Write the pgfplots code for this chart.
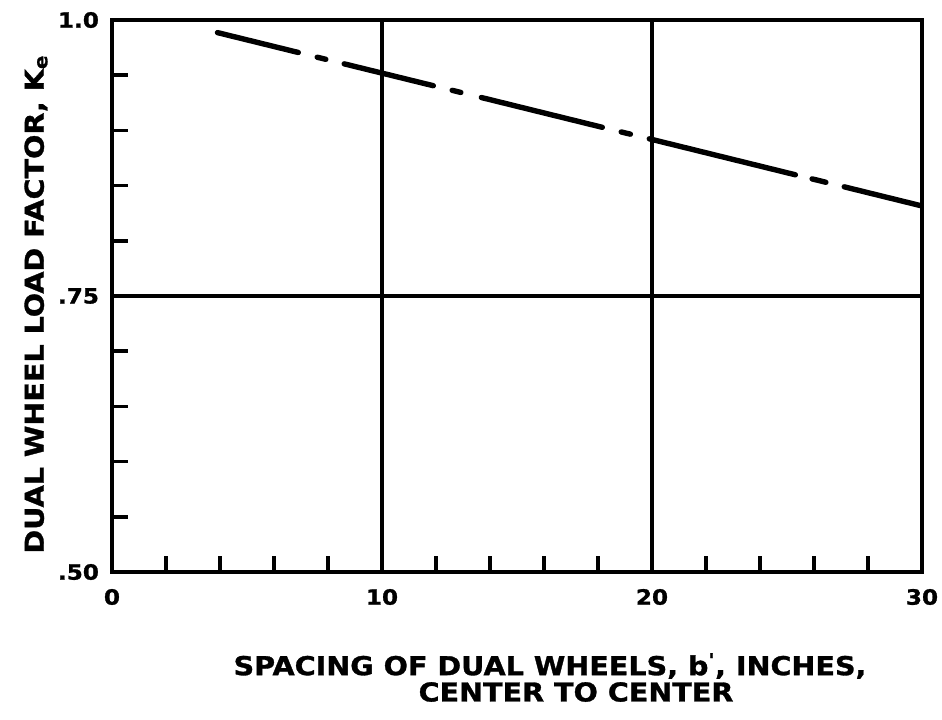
\documentclass[border=0pt]{standalone}
\usepackage{fontspec}
\setmainfont{DejaVu Sans}[BoldFeatures={FakeStretch=1.1,FakeBold=1.2}]
\usepackage{pgfplots}
\pgfplotsset{compat=1.18}
\usetikzlibrary{calc}
\begin{document}
\begin{tikzpicture}
\begin{axis}[
  name=ax,
  scale only axis,
  width=405pt, height=276pt,
  xmin=0, xmax=30, ymin=0.5, ymax=1.0,
  xtick={0,10,20,30},
  ytick={0.5,0.75,1.0},
  yticklabels={.50,.75,1.0},
  minor xtick={2,4,6,8,12,14,16,18,22,24,26,28},
  minor ytick={0.55,0.6,0.65,0.7,0.8,0.85,0.9,0.95},
  major tick length=0pt,
  minor tick length=8pt,
  tick align=inside,
  tick pos=left,
  xmajorgrids, ymajorgrids,
  major grid style={black, line width=1.6pt},
  minor tick style={black, line width=1.8pt},
  axis line style={black, line width=2pt},
  /pgf/number format/assume math mode=true,
  tick label style={font=\bfseries\fontsize{10.5}{12}\selectfont},
  xticklabel style={yshift=-5pt},
  yticklabel style={xshift=-3pt},
  unbounded coords=jump,
  clip=false,
]
\addplot[black, line width=2.7pt, line cap=round] coordinates {
  (3.907,0.9886) (6.90,0.9706) (7.0,nan)
  (7.60,0.9663) (7.92,0.9644) (8.0,nan)
  (8.60,0.9603) (11.90,0.9405) (12.0,nan)
  (12.60,0.9363) (12.92,0.9344) (13.0,nan)
  (13.68,0.9298) (18.16,0.9028) (18.3,nan)
  (18.86,0.8986) (19.20,0.8966) (19.3,nan)
  (19.90,0.8924) (25.31,0.8598) (25.4,nan)
  (25.93,0.8561) (26.44,0.8530) (26.6,nan)
  (27.12,0.8489) (29.926,0.8320)
};
\end{axis}
\node[rotate=90, font=\bfseries\fontsize{13}{15}\selectfont]
  at ($(ax.south west)+(-38pt,134pt)$) {DUAL WHEEL LOAD FACTOR, K\textsubscript{e}};
\node[font=\bfseries\fontsize{13}{15}\selectfont]
  at ($(ax.south west)+(219pt,-47pt)$) {SPACING OF DUAL WHEELS, b\textsuperscript{\textquotesingle}, INCHES,};
\node[font=\bfseries\fontsize{13}{15}\selectfont]
  at ($(ax.south west)+(232pt,-60pt)$) {CENTER TO CENTER};
\pgfresetboundingbox
\path ($(ax.south west)+(-56pt,-73.5pt)$) rectangle ($(ax.south west)+(415pt,286pt)$);
\end{tikzpicture}
\end{document}
